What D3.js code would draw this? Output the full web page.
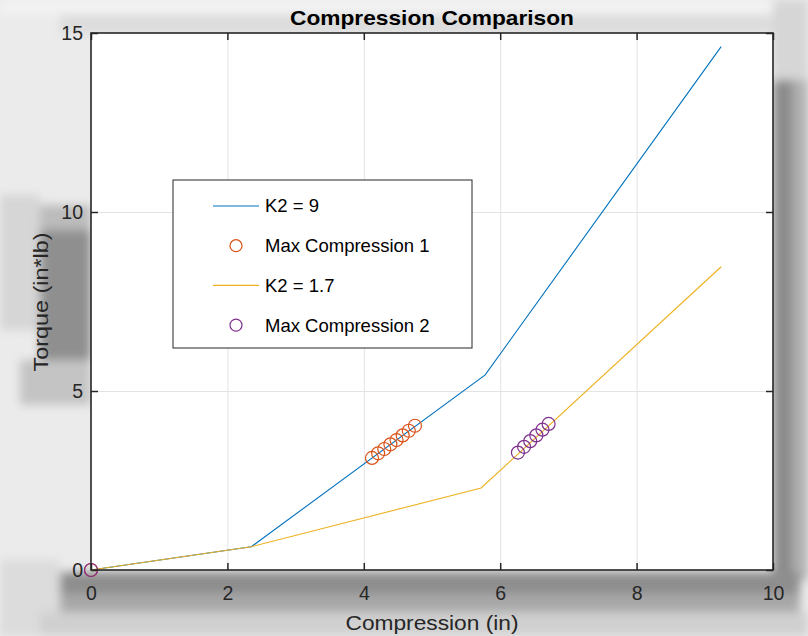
<!DOCTYPE html>
<html>
<head>
<meta charset="utf-8">
<script src="https://cdn.jsdelivr.net/npm/d3@7"></script>
<style>
  html, body { margin: 0; padding: 0; background: #ebebeb; }
  svg { display: block; font-family: "Liberation Sans", Arial, sans-serif; }
</style>
</head>
<body>
<div id="chart"></div>
<script>
// data
var k9X = [0, 2.35, 5.78, 9.24];
var k9Y = [0, 0.65, 5.45, 14.62];
var k17X = [0, 2.35, 5.72, 9.24];
var k17Y = [0, 0.65, 2.29, 8.47];
var max1X = [0, 4.12, 4.21, 4.30, 4.39, 4.48, 4.57, 4.66, 4.75];
var max1Y = [0, 3.13, 3.26, 3.38, 3.51, 3.63, 3.76, 3.89, 4.03];
var max2X = [0, 6.26, 6.35, 6.44, 6.53, 6.62, 6.71];
var max2Y = [0, 3.28, 3.44, 3.60, 3.76, 3.92, 4.08];
var xTicks = [0, 2, 4, 6, 8, 10];
var yTicks = [0, 5, 10, 15];
var legendNames = ['K2 = 9', 'Max Compression 1', 'K2 = 1.7', 'Max Compression 2'];

var opts = {
  width: 808,
  height: 636,
  left: 91,
  right: 773,
  top: 33,
  bottom: 570
};

var colors = {
  blue: '#0072BD',
  orange: '#D95319',
  yellow: '#EDB120',
  purple: '#7E2F8E',
  axis: '#262626',
  grid: '#e3e3e3'
};

var svg = d3.select('#chart').append('svg')
  .attr('width', opts.width)
  .attr('height', opts.height);

// blurry grey backdrop behind the figure
var bgBlocks = [
  [0, 0, 808, 14, '#f3f3f3'],
  [60, 14, 720, 20, '#dddddd'],
  [0, 195, 40, 135, '#d6d6d6'],
  [40, 205, 51, 25, '#bcbcbc'],
  [40, 230, 51, 130, '#8f8f8f'],
  [20, 360, 71, 45, '#c4c4c4'],
  [773, 0, 35, 80, '#d6d6d6'],
  [773, 80, 20, 500, '#8c8c8c'],
  [793, 80, 15, 500, '#b2b2b2'],
  [0, 560, 60, 76, '#dcdcdc'],
  [60, 572, 740, 22, '#8e8e8e'],
  [60, 594, 740, 18, '#a8a8a8'],
  [40, 612, 768, 24, '#d0d0d0']
];
svg.append('defs').append('filter')
  .attr('id', 'soft')
  .append('feGaussianBlur').attr('stdDeviation', 5);
svg.append('rect').attr('width', opts.width).attr('height', opts.height).attr('fill', '#ebebeb');
svg.append('g').attr('filter', 'url(#soft)')
  .selectAll('rect').data(bgBlocks).enter().append('rect')
  .attr('x', function(d) { return d[0]; })
  .attr('y', function(d) { return d[1]; })
  .attr('width', function(d) { return d[2]; })
  .attr('height', function(d) { return d[3]; })
  .attr('fill', function(d) { return d[4]; });

var x = d3.scaleLinear().domain([0, 10]).range([opts.left, opts.right]);
var y = d3.scaleLinear().domain([0, 15]).range([opts.bottom, opts.top]);
var w = opts.right - opts.left;
var h = opts.bottom - opts.top;

svg.append('rect')
  .attr('x', opts.left).attr('y', opts.top)
  .attr('width', w).attr('height', h)
  .attr('fill', '#ffffff');

// grid
svg.append('g')
  .attr('class', 'grid')
  .attr('transform', 'translate(0,' + opts.bottom + ')')
  .call(d3.axisBottom(x).tickValues(xTicks.slice(1, -1)).tickSize(-h).tickFormat(''));
svg.append('g')
  .attr('class', 'grid')
  .attr('transform', 'translate(' + opts.left + ',0)')
  .call(d3.axisLeft(y).tickValues(yTicks.slice(1, -1)).tickSize(-w).tickFormat(''));
svg.selectAll('.grid .domain').remove();
svg.selectAll('.grid line').attr('stroke', colors.grid).attr('stroke-width', 1);

// axes with inward ticks
svg.append('g')
  .attr('class', 'ax')
  .attr('transform', 'translate(0,' + opts.bottom + ')')
  .call(d3.axisBottom(x).tickValues(xTicks).tickSize(-7).tickPadding(16));
svg.append('g')
  .attr('class', 'ax')
  .attr('transform', 'translate(' + opts.left + ',0)')
  .call(d3.axisLeft(y).tickValues(yTicks).tickSize(-7).tickPadding(8));
svg.append('g')
  .attr('class', 'ax')
  .attr('transform', 'translate(0,' + opts.top + ')')
  .call(d3.axisTop(x).tickValues(xTicks).tickSize(-7).tickFormat(''));
svg.append('g')
  .attr('class', 'ax')
  .attr('transform', 'translate(' + opts.right + ',0)')
  .call(d3.axisRight(y).tickValues(yTicks).tickSize(-7).tickFormat(''));
svg.selectAll('.domain').remove();
svg.selectAll('.ax .tick line').attr('stroke', colors.axis).attr('stroke-width', 1.5);
svg.selectAll('.ax .tick text')
  .attr('fill', colors.axis)
  .style('font-size', '19.5px')
  .style('font-family', '"Liberation Sans", Arial, sans-serif');

// lines
var line = d3.line()
  .x(function(d) { return x(d[0]); })
  .y(function(d) { return y(d[1]); });

var k9 = k9X.map(function(v, i) { return [v, k9Y[i]]; });
var k17 = k17X.map(function(v, i) { return [v, k17Y[i]]; });
var m1 = max1X.map(function(v, i) { return [v, max1Y[i]]; });
var m2 = max2X.map(function(v, i) { return [v, max2Y[i]]; });

svg.append('path').datum(k9)
  .attr('d', line).attr('fill', 'none')
  .attr('stroke', colors.blue).attr('stroke-width', 1.1);

svg.selectAll('circle.max1').data(m1).enter().append('circle')
  .attr('class', 'max1')
  .attr('cx', function(d) { return x(d[0]); })
  .attr('cy', function(d) { return y(d[1]); })
  .attr('r', 6.5)
  .attr('fill', 'none')
  .attr('stroke', colors.orange).attr('stroke-width', 1.2);

svg.append('path').datum(k17)
  .attr('d', line).attr('fill', 'none')
  .attr('stroke', colors.yellow).attr('stroke-width', 1.1);

svg.selectAll('circle.max2').data(m2).enter().append('circle')
  .attr('class', 'max2')
  .attr('cx', function(d) { return x(d[0]); })
  .attr('cy', function(d) { return y(d[1]); })
  .attr('r', 6.5)
  .attr('fill', 'none')
  .attr('stroke', colors.purple).attr('stroke-width', 1.2);

// box
svg.append('rect')
  .attr('x', opts.left).attr('y', opts.top)
  .attr('width', w).attr('height', h)
  .attr('fill', 'none')
  .attr('stroke', colors.axis).attr('stroke-width', 1.6);

// title and labels
svg.append('text')
  .attr('x', 432).attr('y', 25)
  .attr('text-anchor', 'middle')
  .attr('textLength', 284).attr('lengthAdjust', 'spacingAndGlyphs')
  .style('font-size', '20.5px').style('font-weight', 'bold')
  .attr('fill', '#000')
  .text('Compression Comparison');

svg.append('text')
  .attr('x', 432).attr('y', 630)
  .attr('text-anchor', 'middle')
  .attr('textLength', 173).attr('lengthAdjust', 'spacingAndGlyphs')
  .style('font-size', '20.5px')
  .attr('fill', colors.axis)
  .text('Compression (in)');

svg.append('text')
  .attr('transform', 'translate(48,302) rotate(-90)')
  .attr('text-anchor', 'middle')
  .attr('textLength', 139).attr('lengthAdjust', 'spacingAndGlyphs')
  .style('font-size', '20.5px')
  .attr('fill', colors.axis)
  .text('Torque (in*lb)');

// legend
var legend = svg.append('g');
legend.append('rect')
  .attr('x', 173).attr('y', 180)
  .attr('width', 299).attr('height', 168)
  .attr('fill', '#fff')
  .attr('stroke', colors.axis).attr('stroke-width', 1);

var legendKinds = ['line', 'circle', 'line', 'circle'];
var legendColors = [colors.blue, colors.orange, colors.yellow, colors.purple];
var rows = legend.selectAll('g.row').data(legendNames).enter().append('g')
  .attr('class', 'row')
  .attr('transform', function(d, i) { return 'translate(0,' + (206 + i * 39.7) + ')'; });

rows.each(function(d, i) {
  var row = d3.select(this);
  if (legendKinds[i] === 'line') {
    row.append('line')
      .attr('x1', 213).attr('x2', 259).attr('y1', 0).attr('y2', 0)
      .attr('stroke', legendColors[i]).attr('stroke-width', 1.1);
  } else {
    row.append('circle')
      .attr('cx', 236).attr('cy', 0).attr('r', 6)
      .attr('fill', 'none')
      .attr('stroke', legendColors[i]).attr('stroke-width', 1.2);
  }
  row.append('text')
    .attr('x', 265).attr('y', 0).attr('dy', '0.35em')
    .style('font-size', '18.5px')
    .attr('fill', '#000')
    .text(d);
});
</script>
</body>
</html>
